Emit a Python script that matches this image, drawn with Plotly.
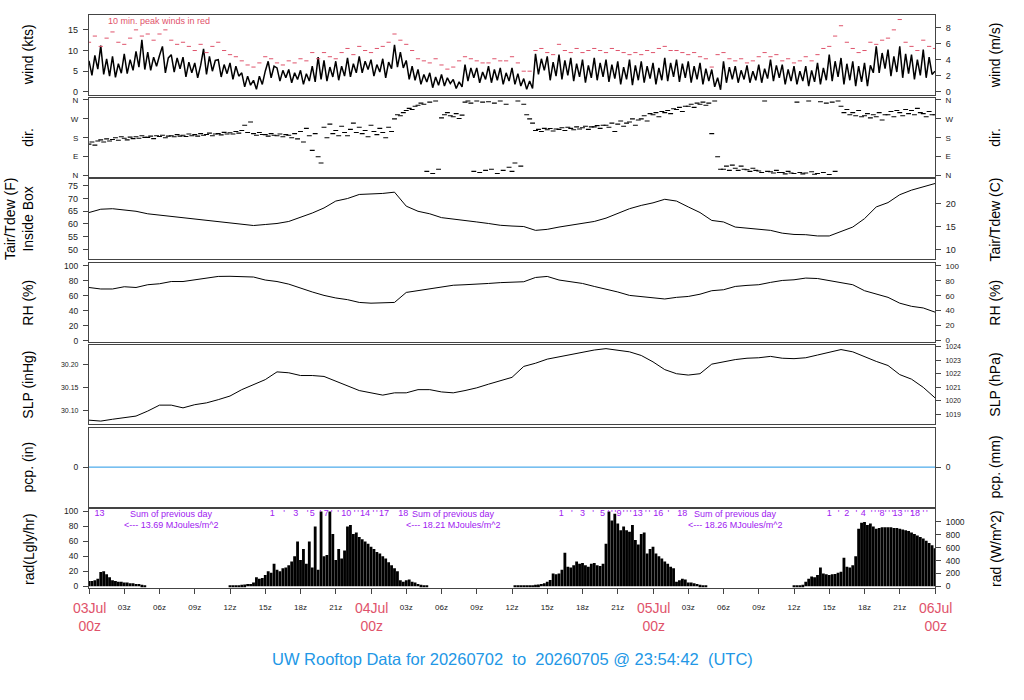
import numpy as np
import plotly.graph_objects as go

# ---- data (hours since 03Jul 00z) ----
t15 = np.arange(289) * 0.25
t30 = np.arange(145) * 0.5
t60 = np.arange(73) * 1.0

# wind speed, kts, 15 min
wind_kts = [
    7.5, 4.0, 8.8, 5.5,   11.2, 4.2, 8.0, 3.8,   8.6, 3.5, 6.8, 4.5,   9.2, 4.4, 7.8, 5.2,
    9.8, 6.0, 12.6, 5.4,  9.6, 5.2, 8.4, 6.2,    8.8, 11.0, 4.6, 8.2,  9.0, 4.8, 8.2, 5.6,
    8.4, 3.6, 7.2, 4.6,   7.0, 3.4, 6.4, 10.4,   4.2, 8.6, 5.0, 7.6,   7.8, 3.6, 6.6, 4.4,
    7.0, 3.0, 6.2, 3.8,   4.6, 1.2, 3.8, 1.6,    2.8, 0.6, 3.8, 1.8,   5.0, 7.4, 3.4, 6.2,
    5.8, 2.6, 5.2, 3.4,   5.4, 2.2, 4.6, 3.0,    5.2, 1.8, 4.4, 2.6,   6.2, 2.4, 8.4, 3.0,
    7.6, 2.6, 6.0, 3.6,   7.4, 2.8, 6.2, 3.8,    8.2, 3.6, 6.8, 4.6,   8.6, 4.6, 7.4, 5.4,
    7.8, 3.8, 6.6, 4.8,   8.0, 3.4, 7.2, 5.6,    11.4, 6.0, 9.6, 5.8,  7.6, 3.0, 6.2, 2.8,
    5.4, 1.8, 4.2, 2.4,   4.6, 1.0, 3.6, 1.6,    4.2, 1.4, 3.4, 2.0,   3.0, 0.8, 2.4, 1.2,
    6.6, 2.6, 5.8, 3.4,   5.8, 2.2, 4.8, 3.0,    6.2, 2.2, 5.4, 2.8,   5.8, 1.8, 4.6, 2.6,
    5.8, 1.8, 4.4, 1.4,   3.2, 0.6, 2.6, 0.8,    9.2, 4.2, 8.0, 5.2,   8.6, 2.8, 7.2, 3.8,
    9.0, 3.0, 7.6, 4.0,   8.2, 2.6, 6.8, 3.6,    7.8, 2.2, 6.4, 3.4,   8.2, 2.8, 7.0, 3.6,
    7.8, 2.4, 6.6, 3.2,   7.4, 1.8, 6.0, 3.0,    7.8, 1.6, 6.4, 2.8,   7.4, 2.2, 6.2, 3.2,
    7.0, 1.8, 5.8, 2.8,   8.2, 2.6, 7.0, 3.6,    7.8, 2.4, 6.8, 3.4,   7.4, 2.2, 6.2, 3.0,
    7.0, 1.8, 5.6, 2.6,   5.4, 1.2, 3.4, 0.5,    7.4, 2.2, 6.0, 3.0,   6.2, 2.2, 5.2, 3.0,
    6.4, 2.2, 5.0, 2.8,   6.6, 2.2, 5.6, 3.2,    7.8, 2.6, 6.4, 3.4,   6.6, 1.8, 5.4, 2.6,
    6.2, 1.8, 5.0, 2.6,   6.2, 1.4, 5.2, 2.4,    7.0, 1.8, 5.8, 2.8,   9.0, 2.6, 7.4, 3.6,
    8.2, 1.8, 6.8, 2.8,   7.4, 1.4, 6.2, 2.4,    7.0, 1.4, 6.4, 4.6,   11.0, 4.6, 9.4, 5.6,
    10.2, 3.8, 8.6, 4.8,  11.0, 3.4, 9.2, 4.4,   9.0, 3.0, 7.8, 4.0,   10.2, 3.4, 8.4, 4.2,
    5.0,
]

# 10 min peak winds, kts, every 30 min
gust_kts = [
    12, 13.5, 11, 13,   14.5, 12, 11.5, 13,   15, 13.5, 14, 12.5,   14, 15, 12.5, 11.5,
    12, 11, 10, 11.5,   9.5, 11, 12, 10,      9, 8.5, 7.5, 6.5,     6, 7, 8.5, 8,
    7, 6.5, 7.5, 7,     8, 7.5, 9.5, 8,       9.5, 8.5, 8, 9.5,     10.5, 9, 11, 10,
    9.5, 10.5, 11, 12,  14, 12.5, 11.5, 10,   8, 7.5, 7, 8,         6.5, 5.5, 6, 7.5,
    8.5, 8, 7.5, 7,     7, 8, 7.5, 7.5,       8.5, 7, 5, 5,         10, 10.5, 9.5, 9,
    11.5, 10, 9.5, 10.5, 9.5, 10, 10.5, 10,   9.5, 10.5, 10, 9.5,   9, 9.5, 9, 10,
    9.5, 10.5, 11, 10,  10, 9.5, 9, 9.5,      8.5, 8, 6, 9,         9.5, 8, 7.5, 8,
    7, 7.5, 8.5, 9.5,   8.5, 9, 7.5, 8,       7, 7.5, 8.5, 7.5,     9, 10.5, 11, 13.5,
    16, 12, 10.5, 9.5,  10, 12, 11.5, 12.5,   13, 15, 17.5, 12,     11, 10, 12.5, 11,
    10.5,
]

# wind direction, degrees, 15 min
wind_dir = [
    150, 160, 145, 165,  170, 160, 175, 165,  172, 180, 168, 185,  178, 170, 183, 176,
    185, 178, 190, 182,  182, 188, 176, 190,  186, 192, 180, 188,  190, 185, 195, 188,
    192, 186, 198, 190,  195, 188, 200, 192,  196, 202, 190, 198,  200, 194, 206, 198,
    204, 198, 210, 202,  215, 240, 205, 255,  200, 192, 205, 196,  195, 188, 200, 192,
    190, 198, 185, 195,  192, 180, 200, 175,  210, 160, 225, 190,  120, 200, 90, 60,
    230, 180, 245, 200,  215, 190, 235, 205,  190, 220, 250, 205,  230, 200, 215, 185,
    240, 210, 195, 225,  205, 180, 230, 210,  270, 290, 285, 300,  310, 320, 315, 330,
    335, 345, 340, 20,   350, 10, 355, 30,    275, 290, 300, 285,  280, 295, 272, 288,
    350, 355, 345, 20,   355, 15, 350, 25,    352, 30, 345, 10,    355, 25, 340, 40,
    20, 60, 355, 45,     340, 290, 270, 250,  215, 220, 210, 225,  218, 224, 212, 222,
    220, 228, 215, 230,  225, 218, 232, 222,  228, 235, 220, 232,  232, 238, 225, 240,
    240, 230, 250, 210,  245, 260, 235, 250,  255, 270, 240, 265,  270, 285, 260, 295,
    290, 300, 280, 305,  300, 310, 295, 318,  315, 325, 305, 330,  330, 340, 325, 345,
    340, 350, 335, 345,  200, 355, 90, 30,    30, 45, 25, 50,      35, 25, 45, 30,
    28, 20, 35, 25,      22, 15, 355, 20,     18, 12, 25, 15,      15, 8, 20, 12,
    10, 350, 15, 8,      12, 355, 18, 6,      10, 352, 15, 345,    5, 350, 20, 355,
    330, 300, 315, 290,  300, 285, 310, 280,  285, 295, 275, 290,  280, 300, 265, 290,
    290, 305, 280, 310,  300, 285, 315, 295,  310, 290, 320, 300,  295, 280, 305, 290,
    290,
]

# air temperature, F, hourly
temp_f = [
    64.5, 65.8, 66.0, 65.5, 65.0, 64.0, 63.5, 63.0, 62.5, 62.0, 61.5, 61.0,
    60.3, 59.7, 59.4, 59.8, 60.2, 61.0, 62.5, 64.3, 66.3, 69.0, 70.0, 71.6,
    71.8, 72.0, 72.5, 67.0, 65.0, 64.0, 62.5, 62.0, 61.3, 60.8, 60.2, 59.5,
    59.2, 59.0, 57.5, 57.9, 58.8, 59.5, 60.4, 61.0, 62.3, 64.0, 66.0, 67.3,
    68.3, 69.7, 69.0, 66.7, 64.5, 61.4, 60.8, 58.8, 58.4, 58.1, 57.5, 56.4,
    55.9, 55.8, 55.3, 55.3, 57.1, 58.8, 62.1, 66.7, 68.4, 71.5, 73.3, 74.6,
    75.9,
]

# relative humidity, %, hourly
rh_pct = [
    71, 69, 69, 72, 71, 74.7, 76, 79, 79, 81, 83.5, 85.8,
    86, 86, 85, 81, 79, 75.5, 70, 65, 60.4, 57, 54.7, 51,
    50, 50, 51, 64.4, 67, 69, 72, 74, 74.7, 76, 76.4, 77.5,
    78, 78.7, 84.4, 85.8, 81, 79, 76.4, 72.4, 69, 65, 60.4, 59,
    57.8, 55.6, 57.8, 59, 62, 66.7, 68, 72.4, 73.8, 74.7, 77.8, 80.4,
    81.3, 83.6, 83, 80.4, 77.8, 74.7, 66.7, 62.2, 57.8, 50, 45.8, 43.6,
    38,
]

# sea level pressure, inHg, hourly
slp_inhg = [
    30.078, 30.076, 30.080, 30.083, 30.087, 30.098, 30.111, 30.111, 30.105, 30.112, 30.116, 30.123,
    30.131, 30.145, 30.156, 30.167, 30.184, 30.182, 30.176, 30.176, 30.174, 30.164, 30.153, 30.143,
    30.138, 30.133, 30.138, 30.138, 30.145, 30.145, 30.140, 30.138, 30.143, 30.149, 30.157, 30.164,
    30.172, 30.196, 30.203, 30.212, 30.217, 30.221, 30.227, 30.232, 30.235, 30.232, 30.228, 30.220,
    30.206, 30.189, 30.180, 30.177, 30.180, 30.201, 30.206, 30.211, 30.214, 30.215, 30.218, 30.214,
    30.213, 30.215, 30.221, 30.227, 30.233, 30.228, 30.217, 30.207, 30.198, 30.178, 30.168, 30.150,
    30.127,
]

# precipitation, in, hourly (none)
pcp_in = [0.0] * 73

# solar radiation, Langley/hr, 15 min
rad_ly = [
    7, 7, 8, 10,   19, 20, 16, 12,  8, 7, 6, 6,   5, 5, 4, 4,   3, 3, 2, 1,
    0, 0, 0, 0,    0, 0, 0, 0,      0, 0, 0, 0,   0, 0, 0, 0,   0, 0, 0, 0,
    0, 0, 0, 0,    0, 0, 0, 0,
    0.5, 1, 1, 1.5,  2, 2.5, 3, 3,  5, 12, 10, 11,  15, 20, 18, 30,
    22, 20, 24, 25,  28, 33, 40, 60,  35, 50, 30, 60,  25, 80, 22, 100,
    40, 42, 100, 70,  35, 50, 37, 48,  80, 82, 70, 72,  66, 63, 60, 57,
    53, 50, 46, 44,  40, 37, 32, 28,  24, 20, 8, 6,  8, 9, 6, 5,
    3, 2, 1, 0.5,
    0, 0, 0, 0,  0, 0, 0, 0,  0, 0, 0, 0,  0, 0, 0, 0,  0, 0, 0, 0,
    0, 0, 0, 0,  0, 0, 0, 0,
    0, 0.5, 0.5, 0.5,  1, 1, 1, 1.5,  2, 2.5, 3, 4,  6, 8.5, 17, 16,
    17, 22, 45, 26,  25, 28, 33, 30,  31, 28, 26, 30,  31, 28, 27, 30,
    57, 100, 88, 97,  84, 75, 80, 75,  73, 82, 62, 56,  70, 72, 44, 50,
    53, 44, 40, 37,  33, 30, 26, 24,  6, 8, 10, 9,  5, 5, 4, 3,
    2, 1.5, 0.5, 0,
    0, 0, 0, 0,  0, 0, 0, 0,  0, 0, 0, 0,  0, 0, 0, 0,  0, 0, 0, 0,
    0, 0, 0, 0,  0, 0, 0, 0,
    0.5, 1, 1.3, 2,  6, 10, 13, 12,  15, 25, 17, 16,  15, 16, 16.5, 18,
    19.5, 38, 26, 25,  28, 40, 77, 85,  86, 82, 84, 80,  77, 78, 79, 79,
    79, 79, 78, 78,  77, 76, 75, 74,  72, 70, 68, 66,  64, 61, 58, 55,
    51,
]

# daily radiation totals marks (hour, label)
rad_mark_hours = [0.9, 15.6, 16.6, 17.6, 18.6, 19.0, 19.7, 20.2, 20.65, 21.2, 21.9, 22.6, 22.9,
                  23.5, 24.2, 24.5, 25.1, 26.75,
                  40.2, 41.1, 42.0, 42.9, 43.7, 44.2, 44.5, 44.8, 45.1, 45.5, 45.8, 46.1,
                  46.7, 47.4, 47.7, 48.45, 49.3, 50.5,
                  63.0, 63.8, 64.5, 65.3, 65.9, 66.6, 66.9, 67.2, 67.5, 67.8, 68.1, 68.4, 68.8,
                  69.45, 69.7, 70.0, 70.3, 70.6, 71.0, 71.3]
rad_mark_labels = ["13", "1", "'", "3", "'", "5", "'", "7", "'", "'", "10", "'", "'",
                   "14", "'", "'", "17", "18",
                   "1", "'", "3", "'", "5", "'", "'", "'", "9", "'", "'", "'",
                   "13", "'", "'", "16", "'", "18",
                   "1", "'", "2", "'", "4", "'", "'", "'", "8", "'", "'", "'", "13",
                   "'", "'", "'", "18", "'", "'", "'"]
day_sum_hours = [7.0, 31.0, 55.0]
day_sum_mj = ["13.69", "18.21", "18.26"]

tick_hours = list(range(0, 73, 3))
tick_text = ["" if h % 24 == 0 else f"{h % 24:02d}z" for h in tick_hours]
day_labels = ["03Jul", "04Jul", "05Jul", "06Jul"]

# ---- layout helpers ----
W, H = 1024, 700
L, R, T, B = 88.7, 934.7, 13.3, 588.3
FONT = "Liberation Sans, Arial, Helvetica, sans-serif"
RED = "#DF536B"
BLUE = "#2297E6"
PURPLE = "#A020F0"
FRAME = "#444444"


def px_x(px):
    return (px - L) / (R - L)


def px_y(py):
    return (B - py) / (B - T)


panel_px = [(13.3, 93.3), (96.7, 175.7), (178.3, 258.3), (261.7, 341.7),
            (344.0, 424.0), (427.3, 506.7), (509.3, 588.3)]

KT_PER_MS = 1.94384
INHG_PER_HPA = 0.02953
LY_TO_WM2 = 11.622

left_ranges = [[-0.7, 18.6], [-6, 369], [46.2, 77.5], [-2.3, 104.4],
               [30.069, 30.244], [-1, 1], [-2.3, 103]]
right_ranges = [
    [v / KT_PER_MS for v in left_ranges[0]],
    left_ranges[1],
    [(v - 32) / 1.8 for v in left_ranges[2]],
    left_ranges[3],
    [v / INHG_PER_HPA for v in left_ranges[4]],
    [v * 25.4 for v in left_ranges[5]],
    [v * LY_TO_WM2 for v in left_ranges[6]],
]

left_ticks = [
    dict(tickvals=[0, 5, 10, 15]),
    dict(tickvals=[0, 90, 180, 270, 360], ticktext=["N", "E", "S", "W", "N"]),
    dict(tickvals=[50, 55, 60, 65, 70, 75]),
    dict(tickvals=[0, 20, 40, 60, 80, 100]),
    dict(tickvals=[30.10, 30.15, 30.20], ticktext=["30.10", "30.15", "30.20"]),
    dict(tickvals=[0]),
    dict(tickvals=[0, 20, 40, 60, 80, 100]),
]
right_ticks = [
    dict(tickvals=[0, 2, 4, 6, 8]),
    dict(tickvals=[0, 90, 180, 270, 360], ticktext=["N", "E", "S", "W", "N"]),
    dict(tickvals=[10, 15, 20]),
    dict(tickvals=[0, 20, 40, 60, 80, 100]),
    dict(tickvals=[1019, 1020, 1021, 1022, 1023, 1024]),
    dict(tickvals=[0]),
    dict(tickvals=[0, 200, 400, 600, 800, 1000]),
]
left_tick_size = [9, 8, 9, 8.5, 7, 8.5, 8.5]
right_tick_size = [9, 8, 9, 8, 7, 8.5, 8.5]

fig = go.Figure()

# wind
fig.add_trace(go.Scatter(x=t15, y=wind_kts, mode="lines", line=dict(color="black", width=1.5),
                         xaxis="x", yaxis="y", showlegend=False))
fig.add_trace(go.Scatter(x=t30, y=gust_kts, mode="markers",
                         marker=dict(symbol="line-ew", size=3, line=dict(color=RED, width=1)),
                         xaxis="x", yaxis="y", showlegend=False))
# direction
fig.add_trace(go.Scatter(x=t15, y=wind_dir, mode="markers",
                         marker=dict(symbol="line-ew", size=3.5, line=dict(color="black", width=1.1)),
                         xaxis="x2", yaxis="y2", showlegend=False))
# temperature
fig.add_trace(go.Scatter(x=t60, y=temp_f, mode="lines", line=dict(color="black", width=1),
                         xaxis="x3", yaxis="y3", showlegend=False))
# RH
fig.add_trace(go.Scatter(x=t60, y=rh_pct, mode="lines", line=dict(color="black", width=1),
                         xaxis="x4", yaxis="y4", showlegend=False))
# SLP
fig.add_trace(go.Scatter(x=t60, y=slp_inhg, mode="lines", line=dict(color="black", width=1),
                         xaxis="x5", yaxis="y5", showlegend=False))
# precip
fig.add_trace(go.Scatter(x=t60, y=pcp_in, mode="lines", line=dict(color=BLUE, width=1),
                         xaxis="x6", yaxis="y6", showlegend=False))
# radiation
fig.add_trace(go.Bar(x=t15, y=rad_ly, marker=dict(color="black", line=dict(width=0)),
                     xaxis="x7", yaxis="y7", showlegend=False))
fig.add_trace(go.Scatter(x=rad_mark_hours, y=[96.5] * len(rad_mark_hours), mode="text",
                         text=rad_mark_labels, textfont=dict(color=PURPLE, size=9, family=FONT),
                         xaxis="x7", yaxis="y7", showlegend=False))

# dummy traces so the right-hand axes are drawn
for i in range(1, 8):
    fig.add_trace(go.Scatter(x=[None], y=[None], xaxis=f"x{i}", yaxis=f"y{i + 7}",
                             showlegend=False, hoverinfo="skip"))

layout = dict(
    width=W, height=H,
    margin=dict(l=L, r=W - R, t=T, b=H - B),
    paper_bgcolor="white", plot_bgcolor="white",
    font=dict(family=FONT, color="#222222"),
    bargap=0.04,
    showlegend=False,
)

for i in range(1, 8):
    top, bot = panel_px[i - 1]
    dom = [px_y(bot), px_y(top)]
    xa = dict(domain=[0, 1], anchor=f"y{i}", range=[0, 72], showgrid=False, zeroline=False,
              showline=True, mirror=True, linecolor=FRAME, linewidth=1.2,
              ticks="", showticklabels=False)
    if i > 1:
        xa["matches"] = "x"
    if i == 7:
        xa.update(ticks="outside", ticklen=5, tickcolor=FRAME, tickvals=tick_hours,
                  ticktext=tick_text, showticklabels=True, ticklabelstandoff=6,
                  tickfont=dict(size=8, color="#222222"))
    layout["xaxis" if i == 1 else f"xaxis{i}"] = xa

    ya = dict(domain=dom, anchor=f"x{i}", range=left_ranges[i - 1], showgrid=False,
              zeroline=False, showline=True, mirror=True, linecolor=FRAME, linewidth=1.2,
              ticks="outside", ticklen=5, tickcolor=FRAME, ticklabelstandoff=3,
              tickfont=dict(size=left_tick_size[i - 1]), **left_ticks[i - 1])
    layout["yaxis" if i == 1 else f"yaxis{i}"] = ya

    yr = dict(overlaying=f"y{i}", side="right", anchor=f"x{i}", range=right_ranges[i - 1],
              showgrid=False, zeroline=False, showline=False, ticks="outside", ticklen=5,
              tickcolor=FRAME, ticklabelstandoff=3,
              tickfont=dict(size=right_tick_size[i - 1]), **right_ticks[i - 1])
    layout[f"yaxis{i + 7}"] = yr

fig.update_layout(**layout)


def note(text, x, y, **kw):
    args = dict(text=text, x=x, y=y, xref="paper", yref="paper", showarrow=False,
                xanchor="center", yanchor="middle")
    args.update(kw)
    fig.add_annotation(**args)


# axis titles
left_titles = ["wind (kts)", "dir.", None, "RH (%)", "SLP (inHg)", "pcp. (in)", "rad(Lgly/hr)"]
right_titles = ["wind (m/s)", "dir.", "Tair/Tdew (C)", "RH (%)", "SLP (hPa)", "pcp. (mm)",
                "rad (W/m^2)"]
title_font = dict(size=14, color="black")
for i in range(7):
    top, bot = panel_px[i]
    yc = px_y((top + bot) / 2)
    if left_titles[i]:
        note(left_titles[i], px_x(28), yc, textangle=-90, font=title_font)
    note(right_titles[i], px_x(995), yc, textangle=-90, font=title_font)
top, bot = panel_px[2]
yc = px_y((top + bot) / 2)
note("Tair/Tdew (F)", px_x(9.5), yc, textangle=-90, font=title_font)
note("Inside Box", px_x(28), yc, textangle=-90, font=title_font)

# wind note
note("10 min. peak winds in red", px_x(106), px_y(19), xanchor="left",
     font=dict(size=9, color=RED))

# daily radiation sums
for h, mj in zip(day_sum_hours, day_sum_mj):
    note("Sum of previous day", h, px_y(514), xref="x7", font=dict(size=9, color=PURPLE))
    note(f"<--- {mj} MJoules/m^2", h, px_y(525.5), xref="x7", font=dict(size=9, color=PURPLE))

# day labels under the time axis
for k, d in enumerate(day_labels):
    note(f"{d}<br>00z", 24 * k, px_y(598), xref="x7", yanchor="top",
         font=dict(size=14, color=RED))

note("UW Rooftop Data for 20260702\u00a0 to\u00a0 20260705 @ 23:54:42\u00a0 (UTC)",
     px_x(512), px_y(660), font=dict(size=16.5, color=BLUE))

# page body has an 8px default margin; drop it so the figure sits at the window corner
fig.write_html("out.html", config={"displayModeBar": False},
               post_script="document.body.style.margin='0px';")
